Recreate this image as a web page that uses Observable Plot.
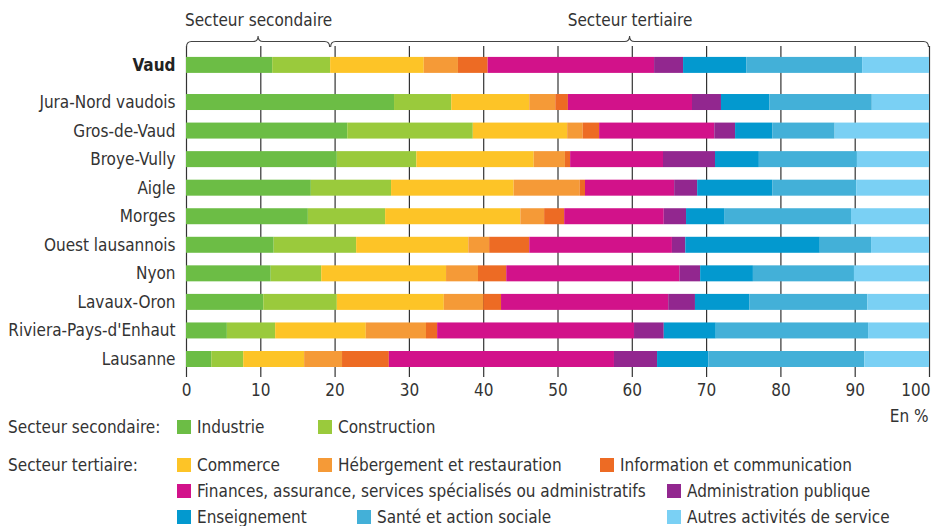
<!DOCTYPE html>
<html>
<head>
<meta charset="utf-8">
<script src="https://cdn.jsdelivr.net/npm/d3@7"></script>
<script src="https://cdn.jsdelivr.net/npm/@observablehq/plot@0.6"></script>
<style>
  html, body { margin: 0; padding: 0; background: #fff; }
  body { width: 932px; height: 526px; overflow: hidden; font-family: "DejaVu Sans Condensed", "DejaVu Sans", sans-serif; color: #333; }
  #chart svg { display: block; overflow: visible; }
  #legend { position: relative; width: 932px; height: 94px; font-size: 17px; }
  #legend .lab, #legend .item { position: absolute; white-space: nowrap; line-height: 20px; transform: translateY(-50%); }
  #legend .sw { display: inline-block; width: 14px; height: 14px; vertical-align: -1px; margin-right: 6px; }
</style>
</head>
<body>
<div id="chart"></div>
<div id="legend"></div>
<script>
const regions = ["Vaud", "Jura-Nord vaudois", "Gros-de-Vaud", "Broye-Vully", "Aigle", "Morges", "Ouest lausannois", "Nyon", "Lavaux-Oron", "Riviera-Pays-d'Enhaut", "Lausanne"];
const industrie      = [11.6, 28.0, 21.7, 20.3, 16.8, 16.4, 11.8, 11.4, 10.4, 5.5, 3.4];
const construction   = [7.8, 7.7, 16.9, 10.7, 10.8, 10.4, 11.1, 6.8, 9.9, 6.5, 4.3];
const commerce       = [12.6, 10.5, 12.7, 15.8, 16.5, 18.2, 15.1, 16.8, 14.4, 12.2, 8.2];
const hebergement    = [4.6, 3.5, 2.1, 4.2, 8.9, 3.2, 2.8, 4.3, 5.3, 8.1, 5.1];
const information    = [4.0, 1.7, 2.2, 0.7, 0.7, 2.7, 5.4, 3.8, 2.4, 1.5, 6.3];
const finances       = [22.4, 16.7, 15.5, 12.5, 12.0, 13.4, 19.2, 23.3, 22.5, 26.5, 30.3];
const administration = [3.9, 3.9, 2.8, 7.0, 3.1, 3.0, 1.8, 2.8, 3.6, 4.0, 5.8];
const enseignement   = [8.5, 6.5, 5.0, 5.9, 10.1, 5.2, 18.1, 7.1, 7.3, 7.0, 6.9];
const sante          = [15.6, 13.8, 8.4, 13.2, 11.3, 17.0, 6.9, 13.6, 15.9, 20.5, 21.0];
const autres         = [9.0, 7.7, 12.7, 9.7, 9.8, 10.5, 7.8, 10.1, 8.3, 8.2, 8.7];

const sectors = ["Industrie", "Construction", "Commerce", "Hébergement et restauration", "Information et communication", "Finances, assurance, services spécialisés ou administratifs", "Administration publique", "Enseignement", "Santé et action sociale", "Autres activités de service"];
const series = [industrie, construction, commerce, hebergement, information, finances, administration, enseignement, sante, autres];
const colors = ["#6cbd45", "#9aca3c", "#fdc427", "#f59a37", "#ed6b24", "#d2128a", "#92278f", "#0399cf", "#43b0d8", "#7ad0f4"];
const secondaryGroup = "Secteur secondaire";
const tertiaryGroup = "Secteur tertiaire";
const xTicks = [0, 10, 20, 30, 40, 50, 60, 70, 80, 90, 100];
const unitLabel = "En %";

// row positions: first row (canton) separated by an extra gap
const GAP = 0.3;
const rowPos = regions.map((r, i) => i === 0 ? 0 : i + GAP);
const HALF = 0.28;

const segs = [];
regions.forEach((r, i) => {
  let acc = 0;
  series.forEach((s, k) => {
    segs.push({region: r, pos: rowPos[i], sector: sectors[k], x1: acc, x2: acc + s[i]});
    acc += s[i];
  });
});
const labels = regions.map((r, i) => ({region: r, pos: rowPos[i], bold: i === 0}));

// brackets derived from canton totals
const secEnd = industrie[0] + construction[0];
const brackets = [
  {label: secondaryGroup, a: 0, b: secEnd},
  {label: tertiaryGroup, a: secEnd, b: 100}
];

const font = '"DejaVu Sans Condensed", "DejaVu Sans", sans-serif';

function braceRender(index, scales) {
  const x = scales.x;
  const g = d3.create("svg:g").attr("fill", "none").attr("stroke", "#444").attr("stroke-width", 1.1);
  const yl = 41.5, ye = 47, yp = 36, r = 5;
  for (const b of brackets) {
    const x0 = x(b.a) + 0.5, x1 = x(b.b) - 0.5, m = (x0 + x1) / 2;
    const p = `M${x0},${ye} Q${x0},${yl} ${x0 + r},${yl} L${m - r},${yl} Q${m},${yl} ${m},${yp} Q${m},${yl} ${m + r},${yl} L${x1 - r},${yl} Q${x1},${yl} ${x1},${ye}`;
    g.append("path").attr("d", p);
  }
  return g.node();
}

const plot = Plot.plot({
  width: 932,
  height: 432,
  marginLeft: 186,
  marginRight: 3,
  marginTop: 0,
  marginBottom: 55,
  style: {fontFamily: font, fontSize: "17px", color: "#333", background: "#fff"},
  x: {domain: [0, 100], axis: null},
  y: {type: "linear", domain: [0, 10 + GAP], range: [64.9, 359], axis: null},
  color: {domain: sectors, range: colors},
  marks: [
    Plot.ruleX(xTicks, {x: d => d, y1: -0.66, y2: 10.93, stroke: "#333", strokeWidth: 1.2}),
    Plot.rect(segs, {x1: "x1", x2: "x2", y1: d => d.pos - HALF, y2: d => d.pos + HALF, fill: "sector"}),
    Plot.text(labels.filter(d => !d.bold), {x: 0, y: "pos", text: "region", textAnchor: "end", dx: -11, fill: "#333"}),
    Plot.text(labels.filter(d => d.bold), {x: 0, y: "pos", text: "region", textAnchor: "end", dx: -11, fill: "#222", fontWeight: "bold"}),
    Plot.text(xTicks.filter(d => d < 100), {x: d => d, text: d => String(d), frameAnchor: "bottom", lineAnchor: "middle", dy: 13, fill: "#333"}),
    Plot.text(xTicks.filter(d => d === 100), {x: d => d, text: d => String(d), frameAnchor: "bottom", lineAnchor: "middle", textAnchor: "end", dx: 1, dy: 13, fill: "#333"}),
    Plot.text(brackets, {x: d => (d.a + d.b) / 2, text: "label", frameAnchor: "top", lineAnchor: "middle", dy: 20, fill: "#333"}),
    Plot.text([unitLabel], {text: d => d, frameAnchor: "bottom-right", lineAnchor: "middle", textAnchor: "end", dx: -1, dy: 39, fill: "#333"}),
    braceRender
  ]
});
document.getElementById("chart").appendChild(plot);

// legend (HTML, below the svg)
const legend = d3.select("#legend");
const rows = [
  {label: secondaryGroup + ":", y: -5, items: [[0, 177], [1, 318]]},
  {label: tertiaryGroup + ":", y: 32.5, items: [[2, 177], [3, 318], [4, 600]]},
  {label: null, y: 59, items: [[5, 177], [6, 667]]},
  {label: null, y: 85, items: [[7, 177], [8, 357], [9, 667]]}
];
for (const row of rows) {
  if (row.label) legend.append("div").attr("class", "lab").style("left", "8px").style("top", row.y + "px").text(row.label);
  for (const [k, left] of row.items) {
    const it = legend.append("div").attr("class", "item").style("left", left + "px").style("top", row.y + "px");
    it.append("span").attr("class", "sw").style("background", colors[k]);
    it.append("span").text(sectors[k]);
  }
}
</script>
</body>
</html>
